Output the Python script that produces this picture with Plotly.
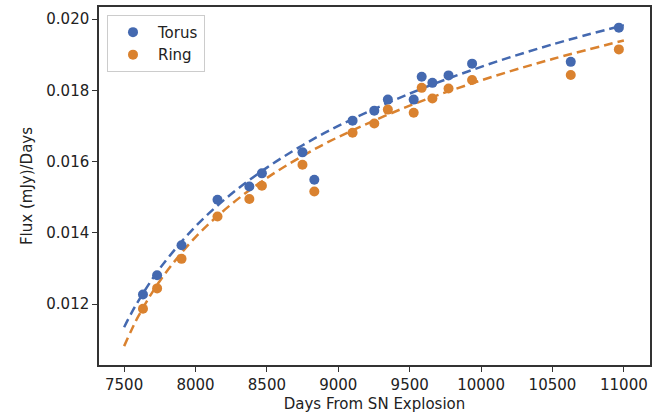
import plotly.graph_objects as go

# Observations
days_torus = [7632, 7731, 7902, 8154, 8377, 8465, 8749, 8832, 9100, 9252, 9347, 9528, 9584, 9659, 9772, 9937, 10628, 10965]
flux_torus = [0.01227, 0.01281, 0.01365, 0.01493, 0.01530, 0.01567, 0.01626, 0.01549, 0.01715, 0.01743, 0.01774, 0.01774, 0.01838, 0.01821, 0.01842, 0.01875, 0.01880, 0.01976]
days_ring = days_torus
flux_ring = [0.01187, 0.01244, 0.01327, 0.01446, 0.01495, 0.01532, 0.01591, 0.01516, 0.01681, 0.01707, 0.01746, 0.01737, 0.01807, 0.01777, 0.01805, 0.01829, 0.01843, 0.01915]

# Fitted curves
fit_days = [7500, 7550, 7600, 7750, 8000, 8250, 8500, 8750, 9000, 9500, 10000, 10500, 11000]
fit_torus = [0.01135, 0.01174, 0.01209, 0.01300, 0.01418, 0.01509, 0.01583, 0.01646, 0.01700, 0.01791, 0.01866, 0.01929, 0.01983]
fit_ring = [0.01082, 0.01126, 0.01166, 0.01265, 0.01388, 0.01480, 0.01554, 0.01616, 0.01669, 0.01757, 0.01828, 0.01888, 0.01940]

x_ticks = [7500, 8000, 8500, 9000, 9500, 10000, 10500, 11000]
y_ticks = [0.012, 0.014, 0.016, 0.018, 0.020]

BLUE = "#4469B0"
ORANGE = "#DA822F"
FONT = "DejaVu Sans"

fig = go.Figure()
fig.add_trace(go.Scatter(x=fit_days, y=fit_torus, mode="lines", showlegend=False,
                         line=dict(color=BLUE, width=2.5, dash="9px,5px", shape="spline")))
fig.add_trace(go.Scatter(x=fit_days, y=fit_ring, mode="lines", showlegend=False,
                         line=dict(color=ORANGE, width=2.5, dash="9px,5px", shape="spline")))
fig.add_trace(go.Scatter(x=days_torus, y=flux_torus, mode="markers", name="Torus",
                         marker=dict(color=BLUE, size=10)))
fig.add_trace(go.Scatter(x=days_ring, y=flux_ring, mode="markers", name="Ring",
                         marker=dict(color=ORANGE, size=10)))

axis_common = dict(showline=True, linecolor="#333333", linewidth=1.5, mirror=True,
                   ticks="outside", ticklen=5, tickwidth=1.2, tickcolor="#333333",
                   showgrid=False, zeroline=False,
                   tickfont=dict(family=FONT, size=15, color="#222222"))

fig.update_xaxes(range=[7324, 11183], tickvals=x_ticks, ticktext=[str(v) for v in x_ticks],
                 title=dict(text="Days From SN Explosion", font=dict(family=FONT, size=15, color="#222222"), standoff=6),
                 **axis_common)
fig.update_yaxes(range=[0.01029, 0.02034], tickvals=y_ticks, ticktext=[f"{v:.3f}" for v in y_ticks],
                 title=dict(text="Flux (mJy)/Days", font=dict(family=FONT, size=15, color="#222222"), standoff=10),
                 **axis_common)

fig.update_layout(
    width=671, height=417,
    margin=dict(l=99, r=21, t=5, b=52),
    paper_bgcolor="white", plot_bgcolor="white",
    font=dict(family=FONT, size=15, color="#222222"),
    legend=dict(x=0.0145, y=0.978, xanchor="left", yanchor="top",
                bgcolor="white", bordercolor="#cccccc", borderwidth=1,
                font=dict(family=FONT, size=15, color="#222222"),
                itemwidth=40),
    showlegend=True,
)

fig.write_html("out.html")
